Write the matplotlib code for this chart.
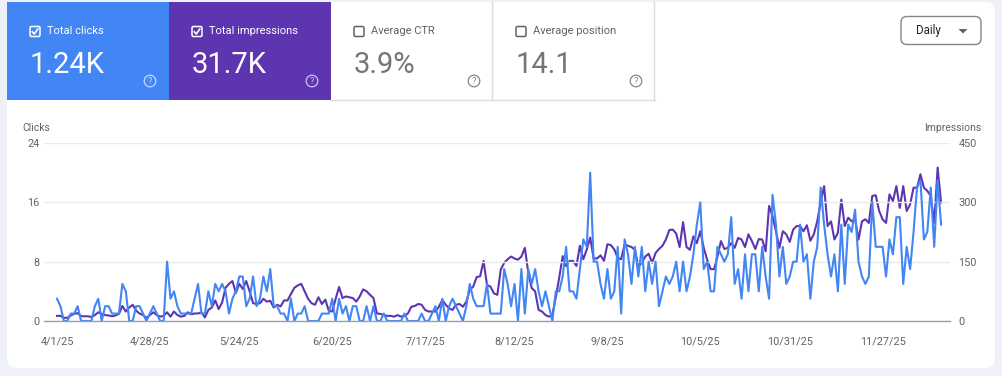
import matplotlib
matplotlib.use("Agg")
import matplotlib.pyplot as plt
import numpy as np
from matplotlib.patches import FancyBboxPatch, Rectangle, Circle, Polygon
from matplotlib.lines import Line2D
from matplotlib.transforms import Affine2D

plt.rcParams['font.family'] = ['Roboto', 'DejaVu Sans']

# daily values, 4/1/25 .. 12/15/25
clicks = [
    3, 2, 0, 0, 1, 1, 2, 0, 0, 0,
    0, 2, 3, 0, 2, 2, 1, 1, 1, 5,
    4, 0, 0, 2, 2, 1, 0, 1, 2, 1,
    0, 0, 8, 3, 4, 2, 1, 1, 1, 1,
    3, 5, 1, 1, 4, 2, 5, 4, 5, 4,
    1, 3, 4, 6, 6, 2, 3, 6, 2, 3,
    6, 4, 7, 2, 2, 1, 1, 0, 3, 0,
    1, 1, 2, 0, 0, 0, 0, 1, 1, 1,
    3, 0, 3, 1, 2, 0, 2, 2, 0, 0,
    2, 0, 2, 0, 0, 1, 0, 0, 0,
    0, 0, 1, 0, 0, 0, 0, 1, 0, 0,
    1, 2, 0, 3, 0, 2, 3, 2, 1, 0,
    2, 5, 3, 2, 2, 2, 5, 1, 1, 1, 1,
    7, 5, 2, 5, 0, 7, 1, 7, 5, 7,
    4, 2, 4, 2, 0, 4, 4, 6, 10, 4,
    4, 3, 7, 11, 10, 20, 8, 8, 5, 3,
    7, 3, 4, 10, 1, 11, 9, 5, 10, 6,
    10, 4, 8, 5, 8, 2, 4, 6, 5, 6,
    8, 4, 8, 4, 6, 9, 13, 16, 7, 8,
    4, 4, 10, 9, 8, 9, 14, 5, 7, 3,
    9, 4, 9, 9, 4, 10, 6, 3, 17, 13,
    6, 10, 5, 6, 8, 8, 13, 8, 9, 3,
    8, 10, 18, 13, 9, 6, 9, 4, 13, 5,
    13, 12, 15, 8, 6, 5, 6, 16, 10, 10,
    10, 6, 11, 9, 14, 14, 5, 10, 7, 12,
    18, 19, 11, 12, 18, 10, 19, 13,
]

impressions = [
    13, 13, 8, 8, 14, 18, 20, 12, 12, 12,
    10, 15, 22, 18, 15, 14, 12, 14, 18, 38,
    24, 34, 41, 26, 19, 15, 8, 15, 22, 15,
    11, 13, 22, 11, 24, 15, 11, 13, 22, 17,
    19, 19, 22, 9, 28, 34, 52, 30, 47, 84,
    94, 101, 71, 94, 81, 101, 75, 45, 43, 45,
    56, 49, 51, 34, 41, 37, 52, 52, 68, 84,
    90, 94, 75, 56, 45, 41, 60, 43, 54, 26,
    24, 56, 86, 58, 62, 60, 58, 49, 62, 80,
    75, 66, 58, 19, 18, 15, 13, 13, 11,
    15, 11, 13, 19, 36, 38, 43, 41, 28, 24,
    24, 24, 36, 53, 41, 32, 28, 41, 43, 36,
    49, 79, 87, 111, 113, 152, 91, 87, 70, 66,
    130, 147, 156, 163, 158, 155, 163, 185, 122, 83,
    75, 28, 24, 15, 11, 15, 60, 110, 164, 139,
    152, 152, 139, 190, 156, 181, 211, 158, 158, 166,
    152, 194, 192, 181, 160, 156, 194, 190, 187, 180,
    138, 147, 163, 170, 147, 172, 182, 190, 206, 230,
    231, 221, 187, 250, 187, 180, 214, 197, 227, 185,
    155, 131, 131, 163, 202, 182, 185, 197, 185, 210,
    206, 187, 219, 202, 182, 207, 206, 176, 291, 265,
    227, 185, 227, 219, 200, 231, 240, 240, 227, 242,
    203, 219, 252, 300, 341, 240, 252, 206, 223, 307,
    240, 261, 252, 257, 206, 252, 257, 248, 316, 318,
    278, 257, 248, 320, 303, 341, 286, 341, 278, 295,
    337, 337, 371, 337, 329, 316, 248, 388, 299,
]

tick_days = [0, 27, 53, 80, 107, 133, 160, 187, 213, 240]
tick_labels = ['4/1/25', '4/28/25', '5/24/25', '6/20/25', '7/17/25',
               '8/12/25', '9/8/25', '10/5/25', '10/31/25', '11/27/25']

metric_names = ['Total clicks', 'Total impressions', 'Average CTR', 'Average position']
metric_values = ['1.24K', '31.7K', '3.9%', '14.1']
metric_checked = [True, True, False, False]

BLUE = '#4285f4'
PURPLE = '#5e35b1'
GREY_TXT = '#5f6368'
W, H = 1002, 376

fig = plt.figure(figsize=(W / 100, H / 100), dpi=100, facecolor='#eef2f8')
# pixel coordinates, origin top-left
px = Affine2D().scale(1 / W, -1 / H).translate(0, 1) + fig.transFigure

card = FancyBboxPatch((7, 2), 988, 366, boxstyle='round,pad=0,rounding_size=9',
                      transform=px, facecolor='white', edgecolor='none', zorder=-5)
fig.patches.append(card)

# metric tiles
box_colors = [BLUE, PURPLE, 'white', 'white']
for k in range(4):
    x0 = 7 + 162 * k
    fig.patches.append(Rectangle((x0, 2), 162, 98, transform=px, zorder=-4,
                                 facecolor=box_colors[k], edgecolor='none'))
    on_color = k < 2
    fg = 'white' if on_color else GREY_TXT
    if not on_color:
        fig.lines.append(Line2D([x0 + 161.5, x0 + 161.5], [2, 100], transform=px,
                                color='#dadce0', lw=1))
        fig.lines.append(Line2D([x0, x0 + 162], [100, 100], transform=px,
                                color='#dadce0', lw=1))
    # checkbox
    cb_x = x0 + 23
    fig.patches.append(FancyBboxPatch((cb_x, 26.5), 10, 10,
                                      boxstyle='round,pad=0,rounding_size=1.5',
                                      transform=px, facecolor='none',
                                      edgecolor=fg, lw=1.1))
    if metric_checked[k]:
        fig.lines.append(Line2D([cb_x + 2.3, cb_x + 4.3, cb_x + 7.8],
                                [31.8, 34, 29], transform=px,
                                color=fg, lw=1.2))
    fig.text((x0 + 40) / W, 1 - 31.5 / H, metric_names[k], color=fg,
             fontsize=8, va='center', ha='left')
    fig.text((x0 + 22.5) / W, 1 - 73 / H, metric_values[k],
             color='white' if on_color else '#757575',
             fontsize=21, va='baseline', ha='left')
    # help icon
    ic = (x0 + 143, 81)
    icol = (1, 1, 1, 0.7) if on_color else '#80868b'
    fig.patches.append(Circle(ic, 5.8, transform=px, facecolor='none',
                              edgecolor=icol, lw=0.9))
    fig.text(ic[0] / W, 1 - (ic[1] + 0.3) / H, '?', color=icol, fontsize=6.5,
             ha='center', va='center')

# Daily dropdown
fig.patches.append(FancyBboxPatch((901, 16.5), 80, 28,
                                  boxstyle='round,pad=0,rounding_size=6',
                                  transform=px, facecolor='white',
                                  edgecolor='#80868b', lw=1))
fig.text(916 / W, 1 - 30.5 / H, 'Daily', color='#202124', fontsize=8.3,
         va='center', ha='left')
fig.patches.append(Polygon([(958.5, 29), (967.5, 29), (963, 33.5)],
                           transform=px, facecolor=GREY_TXT, edgecolor='none'))

# chart
x_left, x_right, y_top, y_base = 44, 950, 143, 321
ax = fig.add_axes([x_left / W, 1 - y_base / H, (x_right - x_left) / W,
                   (y_base - y_top) / H])
ax.set_facecolor('none')
days = np.arange(len(clicks))
ppd = 3.44
ax.set_xlim((x_left - 57) / ppd, (x_right - 57) / ppd)
ax.set_ylim(0, 24)
ax.set_yticks([0, 8, 16, 24])
ax.set_xticks(tick_days)
ax.set_xticklabels(tick_labels)
ax.grid(axis='y', color='#e8eaed', lw=1)
ax.set_axisbelow(True)
for s in ['top', 'left', 'right']:
    ax.spines[s].set_visible(False)
ax.spines['bottom'].set_color('#9aa0a6')
ax.spines['bottom'].set_linewidth(1)
ax.tick_params(axis='both', length=0, labelsize=7.8, labelcolor=GREY_TXT)
ax.tick_params(axis='x', pad=11)
ax.tick_params(axis='y', pad=3)

ax2 = ax.twinx()
ax2.set_ylim(0, 450)
ax2.set_yticks([0, 150, 300, 450])
for s in ax2.spines.values():
    s.set_visible(False)
ax2.tick_params(axis='y', length=0, labelsize=7.8, labelcolor=GREY_TXT, pad=6)

ax2.plot(days, impressions, color=PURPLE, lw=1.5, solid_joinstyle='round')
ax.plot(days, clicks, color=BLUE, lw=1.5, solid_joinstyle='round')
ax2.set_zorder(5)
ax.set_zorder(6)

fig.text(22 / W, 1 - 128 / H, 'Clicks', color=GREY_TXT, fontsize=7.5,
         va='center', ha='left')
fig.text(981 / W, 1 - 128 / H, 'Impressions', color=GREY_TXT, fontsize=7.5,
         va='center', ha='right')

fig.savefig('out.png', dpi=100, facecolor=fig.get_facecolor())
